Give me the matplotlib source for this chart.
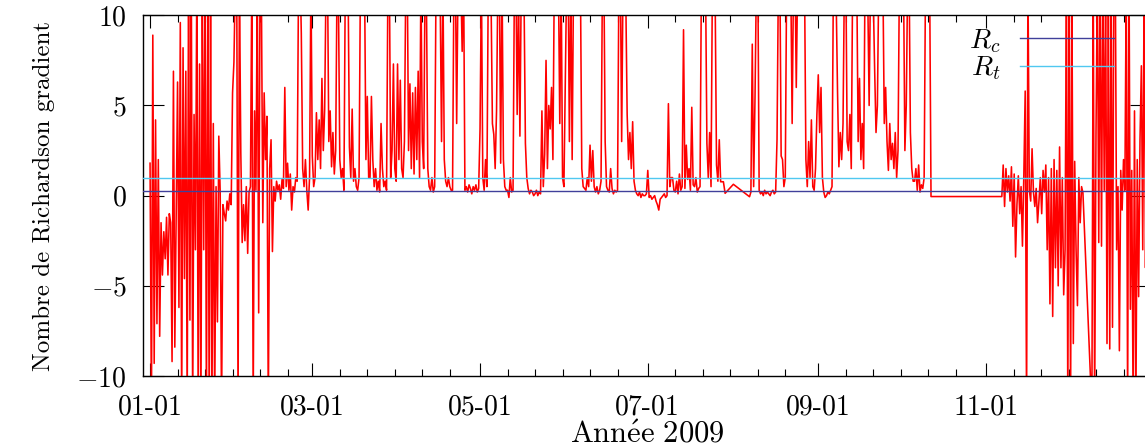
import numpy as np
import matplotlib
matplotlib.use('Agg')
import matplotlib.pyplot as plt
import matplotlib.dates as mdates
from matplotlib.ticker import FixedLocator

plt.rcParams['font.family'] = ['cmr10', 'DejaVu Serif']
plt.rcParams['mathtext.fontset'] = 'cm'
plt.rcParams['axes.formatter.use_mathtext'] = True

# Nombre de Richardson, un point toutes les 12 h
# segment 1 : a partir du 01-01
ri_hiver = [1.8, -12, 8.9, -9.3, 4.2, -7.1, 2.0, -7.8, -1.5, -4.4, -2.0, -3.5, -1.2, -4.4, -1.0, -1.5, -9.2, 6.9, -8.4, -1.0,
            6.3, -6.2, 9.6, -12, 8.2, -4.6, 6.9, -12, 12, -6.9, 12, -12, 4.5, -3.0, 12, -12, 7.3, -12, 12, -3.0,
            12, -12, 12, -12, 11, -12, 4.0, -12, 0.5, -7.0, 3.3, 0.2, -12, -0.5, -1.0, -1.4, -0.3, -0.8, 0.1, -0.5,
            5.7, 7.4, 12, 13, -12, 12, 2.4, -2.6, -0.5, -2.5, 0.5, -3.2, 0.2, 0.5, 12, -12, 4.7, 0.3, 12, -6.5,
            12, 11, -1.5, 5.7, 2.0, 4.4, -12, 1.5, 3.1, -3.1, 0.5, -0.3, 0.8, 0.3, 0.6, -0.2, 0.9, 0.4, 6.0, 0.5,
            1.8, 0.3, 1.2, -0.8, 0.5, 0.2, 1.0, 0.8, 12, 13, 9.0, 1.5, 0.5, 2.0, 0.3, -0.8, 1.0, 12, 2.2, 0.5]
ri_printemps = [1.0, 4.6, 2.0, 4.2, 1.5, 6.5, 2.5, 4.8, 12, 13, 3.0, 4.7, 1.6, 3.5, 1.2, 2.5, 12, 11, 2.0, 1.0,
                1.5, 0.3, 12, 11, 12, 2.7, 1.0, 4.8, 0.8, 1.5, 0.5, 0.3, 1.0, 12, 13, 11, 12, 2.0, 5.5, 1.0,
                1.0, 5.5, 2.0, 0.5, 1.5, 0.3, 0.8, 0.2, 4.0, 1.5, 0.5, 0.8, 0.3, 12, 13, 1.0, 2.5, 7.3, 1.5, 0.8,
                7.3, 2.0, 6.4, 1.5, 1.0, 3.0, 12, 13, 2.5, 6.2, 1.5, 5.7, 1.2, 6.0, 2.0, 6.9, 1.0, 12, 3.0, 1.5,
                12, 11, 1.5, 0.5, 0.3, 1.0, 0.2, 0.5, 12, 13, 12, 11, 3.0, 12, 2.0, 0.8, 0.5, 1.0, 0.5, 0.3,
                0.3, 12, 13, 4.0, 12, 11, 12, 8.0, 13, 0.3, 0.5, 0.2, 0.6, 0.4, 0.1, 0.5, 0.3, 0.6, 0.2, 0.4,
                3.7, 12, 1.0, 0.3, 2.0, 0.5, 12, 13, 11, 4.0, 3.4, 1.5, 4.7, 12, 13, 1.8, 12, 2.0, 0.5, 0.3,
                0.3, -0.1, 1.0, 0.2, 0.3, 12, 13, 4.5, 11, 3.3, 12, 13, 11, 2.9, 1.0, 0.4, 0.1, 0.3, 0.2, 0.0]
ri_ete = [0.1, 0.3, 0.0, 0.2, 0.1, 4.7, 0.5, 2.3, 7.5, 1.5, 5.0, 3.7, 6.0, 2.0, 12, 13, 11, 12, 4.0, 12,
          1.0, 0.5, 6.4, 12, 13, 3.0, 12, 2.0, 12, 13, 12, 11, 13, 12, 1.5, 0.5, 0.4, 0.3, 1.0, 0.5,
          2.8, 0.8, 2.5, 0.5, 0.2, 0.5, 0.1, 0.3, 0.8, 12, 13, 3.0, 0.5, 0.3, 0.2, 1.5, 0.4, 0.1, 0.3, 0.2,
          0.3, 12, 13, 3.0, 12, 13, 11, 4.5, 2.0, 3.5, 1.5, 4.1, 0.8, 0.3, 0.1, 0.0, 0.2, -0.1, 0.1, 0.0,
          0.0, 0.1, 1.4, -0.1, 0.0, -0.2, -0.1, 0.0, -0.3, -0.5, -0.8, -0.2, -0.1, 0.0, 0.1, -0.1, 0.0, 5.1, 0.5, 1.0,
          1.0, 0.3, 0.2, 0.8, 0.1, 1.2, 0.3, 0.5, 9.2, 0.4, 2.8, 0.9, 1.5, 0.3, 4.9, 0.6, 0.5, 1.0, 0.2, 0.4,
          0.5, 12, 13, 11, 12, 2.9, 1.0, 3.5, 0.5, 12, 13, 11, 1.7, 0.8, 3.1, 0.77, 0.77, 0.77]
# points isoles fin juillet (trou de mesures)
trou_dates = ['2009-07-29T03:00', '2009-08-01T03:00']
trou_ri = [0.13, 0.63]
# segment 2 : a partir du 08-07
ri_aout_oct = [-0.06, 0.2, 8.4, 0.5, 5.5, 12, 13, 0.3, 0.1, 0.2, 0.0, 0.3, 0.1, 0.2, 0.1, 0.0, 0.2, 0.3, 0.1, 0.2,
               3.1, 12, 13, 2.2, 2.0, 0.5, 1.0, 12, 13, 11, 12, 4.0, 12, 13, 6.0, 12, 11, 13, 12, 13,
               12, 2.0, 0.5, 3.0, 1.0, 4.2, 0.5, 0.3, 1.5, 4.5, 6.7, 3.5, 6.0, 1.0, 0.2, -0.1, 0.0, 0.2, 0.1, 0.3,
               0.5, 12, 13, 11, 5.8, 1.6, 3.5, 2.0, 4.0, 12, 13, 3.0, 2.5, 4.5, 1.5, 12, 13, 11, 12, 3.0,
               6.5, 2.0, 4.0, 1.5, 12, 13, 11, 5.0, 12, 13, 11, 7.0, 3.5, 5.0, 12, 13, 11, 12, 4.0, 6.0,
               3.0, 1.4, 4.0, 2.0, 2.9, 1.5, 3.5, 1.0, 2.5, 12, 13, 11, 12, 2.5, 5.0, 12, 13, 3.5, 1.5, 0.8,
               0.8, 1.5, 0.3, 1.7, 0.2, 0.6, 0.4, 1.0, 12, 13, 11, 12, -0.05]
# segment 3 : a partir du 11-06
ri_nov = [-0.05, 1.7, -0.6, 1.5, 0.2, 1.1, -0.3, 1.6, -1.7, 1.2, -3.4, -0.5, 1.1, -1.0, 0.5, -2.8, 1.1, 5.8, -12, 12,
          0.3, -0.3, 2.6, 0.2, -0.6, 0.4, -1.5, -0.3, 1.0, -1.0, 1.4, 0.2, 1.7, -3.0, 1.0, -6.0, 1.5, -6.7, 2.0, -4.0,
          1.4, -5.0, 2.7, -4.0, 1.0, -5.5, -3.0, 12, -12, 13, -12, 11, -8.2, 1.9, -3.0, -6.1, 1.0, -1.5, 0.5, 0.15]
# segment 4 : a partir du 12-09
ri_dec = [-12, 12, -12, 3.5, 12, -2.6, 13, -2.8, 12, 0.3, 12, -8.2, 11, -8.5, 12,
          -7.3, 12, 13, -3.0, 0.5, -8.6, 1.4, -0.8, 2.0, 0.3, 12, -12, 13, -6.3, 1.4,
          -12, 4.7, -12, 2.0, -5.6, 3.1, 7.2, -3.0, 12, -4.0, 5.0, -6.5]

rc = 0.25
rt = 1.0


def serie(debut, valeurs):
    t = np.datetime64(debut) + np.arange(len(valeurs)) * np.timedelta64(12, 'h')
    return t.astype('datetime64[m]'), np.array(valeurs, dtype=float)


t1, v1 = serie('2009-01-01T00:00', ri_hiver + ri_printemps + ri_ete)
t2, v2 = np.array(trou_dates, dtype='datetime64[m]'), np.array(trou_ri)
t3, v3 = serie('2009-08-07T00:00', ri_aout_oct)
t4, v4 = serie('2009-11-06T18:00', ri_nov)
t5, v5 = serie('2009-12-09T12:00', ri_dec)
t = np.concatenate([t1, t2, t3, t4, t5])
ri = np.concatenate([v1, v2, v3, v4, v5])

# FIGURE
fig = plt.figure(figsize=(11.45, 4.47), dpi=100)
ax = fig.add_axes([143.3/1145, 71/447, 1007.7/1145, 360.7/447])

ax.plot(t, ri, color='#ff0000', lw=1.15, zorder=2)
l_rc = ax.axhline(rc, color='#40409a', lw=1.0, zorder=3)
l_rt = ax.axhline(rt, color='#50c8f0', lw=1.0, zorder=3)

ax.set_xlim(np.datetime64('2008-12-29T13:00'), np.datetime64('2009-12-31T00:00'))
ax.set_ylim(-10, 10)

# ticks x : tous les 2 mois, mineurs tous les 10 jours
mois = [np.datetime64('2009-%02d-01' % m) for m in (1, 3, 5, 7, 9, 11)]
ax.xaxis.set_major_locator(mdates.MonthLocator(bymonth=[1, 3, 5, 7, 9, 11]))
ax.xaxis.set_major_formatter(mdates.DateFormatter('%m-%d'))
mineurs = [m + np.timedelta64(10*k, 'D') for m in mois for k in range(1, 6)]
ax.xaxis.set_minor_locator(FixedLocator(mdates.date2num(mineurs)))
ax.tick_params(axis='x', which='major', direction='in', length=9.5, width=0.8,
               top=True, labelsize=20, pad=13)
ax.tick_params(axis='x', which='minor', direction='in', length=4.7, width=0.8, top=True)

ax.set_yticks([-10, -5, 0, 5, 10])
ax.set_yticklabels(['$-10$', '$-5$', '$0$', '$5$', '$10$'])
ax.tick_params(axis='y', direction='in', length=15, width=0.8, right=True, labelsize=20, pad=12)

for s in ax.spines.values():
    s.set_linewidth(1.0)

ax.set_ylabel('Nombre de Richardson gradient', fontsize=18)
ax.yaxis.set_label_coords(-0.088, 0.5)
ax.set_xlabel(r'$\mathrm{Ann\acute{e}e\ 2009}$', fontsize=22)
ax.xaxis.set_label_coords(0.5, -0.125)

ax.legend([l_rc, l_rt], ['$R_c$', '$R_t$'], loc='upper right',
          bbox_to_anchor=(1114/1145, 0.94), bbox_transform=fig.transFigure,
          frameon=False, markerfirst=False, fontsize=20, handlelength=3.4,
          handletextpad=0.7, borderpad=0, borderaxespad=0, labelspacing=0.0)

fig.savefig('out.png', dpi=100)
